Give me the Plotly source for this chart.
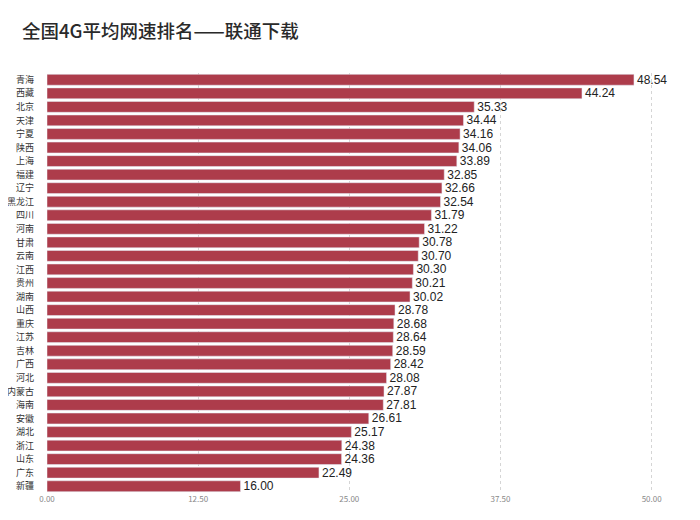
import plotly.graph_objects as go

provinces = ["青海", "西藏", "北京", "天津", "宁夏", "陕西", "上海", "福建", "辽宁", "黑龙江",
             "四川", "河南", "甘肃", "云南", "江西", "贵州", "湖南", "山西", "重庆", "江苏",
             "吉林", "广西", "河北", "内蒙古", "海南", "安徽", "湖北", "浙江", "山东", "广东", "新疆"]
speeds = [48.54, 44.24, 35.33, 34.44, 34.16, 34.06, 33.89, 32.85, 32.66, 32.54,
          31.79, 31.22, 30.78, 30.70, 30.30, 30.21, 30.02, 28.78, 28.68, 28.64,
          28.59, 28.42, 28.08, 27.87, 27.81, 26.61, 25.17, 24.38, 24.36, 22.49, 16.00]
tick_vals = [0, 12.5, 25, 37.5, 50]
tick_text = ["0.00", "12.50", "25.00", "37.50", "50.00"]

font = "Noto Sans CJK SC"

fig = go.Figure(go.Bar(
    x=speeds, y=provinces, orientation="h",
    marker=dict(color="#ad3c4b"),
    text=[f"{v:.2f}" for v in speeds],
    textposition="outside",
    constraintext="none",
    textfont=dict(size=12, color="#222222", family="Liberation Sans"),
    cliponaxis=False,
))

fig.update_layout(
    width=700, height=520,
    margin=dict(l=39, r=8, t=65, b=35),
    paper_bgcolor="white", plot_bgcolor="white",
    bargap=0.2,
    showlegend=False,
    title=dict(text="全国4G平均网速排名——联通下载", x=0.02, xanchor="left",
               y=0.954, yanchor="middle",
               font=dict(size=18.5, color="#2a2a2a", family=font, weight=500)),
    xaxis=dict(range=[0, 54], tickvals=tick_vals, ticktext=tick_text,
               showgrid=True, gridcolor="#d5d5d5", griddash="dot", gridwidth=1,
               zeroline=False, showline=False, ticks="", automargin=False,
               tickfont=dict(size=8, color="#888888", family=font)),
    yaxis=dict(autorange="reversed", ticks="", showline=False, automargin=False,
               tickfont=dict(size=9, color="#333333", family=font),
               ticklabelstandoff=12),
)

fig.write_html("out.html")
